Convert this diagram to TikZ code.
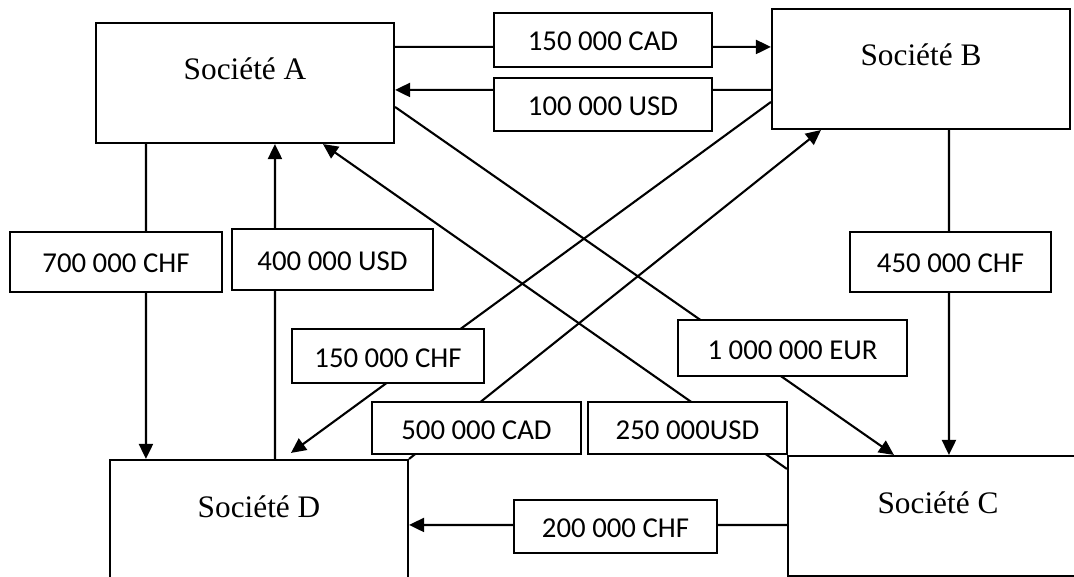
\documentclass[tikz,border=0pt]{standalone}
\usepackage{fontspec}
\setmainfont{Liberation Serif}
\newfontfamily\lblfont{Carlito}
\usetikzlibrary{arrows.meta}
\begin{document}
\begin{tikzpicture}[x=1bp,y=-1bp,
  company/.style={draw, line width=2.1bp, fill=white, minimum width=298bp, minimum height=120bp, inner sep=0pt, font=\fontsize{31.3bp}{36bp}\selectfont, text height=22bp, text depth=28bp},
  lab/.style={draw, line width=1.9bp, fill=white, inner sep=0pt, font=\lblfont\fontsize{28.8bp}{34bp}\selectfont, text height=22bp, text depth=0pt},
  arr/.style={line width=2.1bp, -{Triangle[length=15bp,width=14bp]}}
]
\useasboundingbox (0,0) rectangle (1074,577);
\clip (0,0) rectangle (1074,577);
% companies
\node[company] (A) at (245,83) {Société A};
\node[company] (B) at (921,69) {Société B};
\node[company, minimum width=300bp] (C) at (938,516) {Société C};
\node[company] (D) at (259,520) {Société D};
% connectors
\draw[arr] ([yshift=-25bp]A.north east) -- ([yshift=-39bp]B.north west);
\draw[arr] ([yshift=-82bp]B.north west) -- ([yshift=-68bp]A.north east);
\draw[arr] ([xshift=51bp]A.south west) -- ([xshift=37bp]D.north west);
\draw[arr] ([xshift=166bp]D.north west) -- ([xshift=180bp]A.south west);
\draw[arr] ([xshift=178bp]B.south west) -- ([xshift=162bp]C.north west);
\draw[arr] ([yshift=-85bp]A.north east) -- ([xshift=107bp]C.north west);
\draw[arr] ([yshift=-14bp]C.north west) -- ([xshift=228bp]A.south west);
\draw[arr] ([yshift=-94bp]B.north west) -- ([xshift=182bp,yshift=6bp]D.north west);
\draw[arr] (D.north east) -- ([xshift=50bp]B.south west);
\draw[arr] ([yshift=-70bp]C.north west) -- ([yshift=-66bp]D.north east);
% labels
\node[lab, minimum width=218bp, minimum height=54bp] (l1) at (603,40) {150 000 CAD};
\node[lab, minimum width=218bp, minimum height=53bp] (l2) at (603,104.5) {100 000 USD};
\node[lab, minimum width=212bp, minimum height=60bp] (l3) at (116,262) {700 000 CHF};
\node[lab, minimum width=201bp, minimum height=61bp] (l4) at (332.5,259.5) {400 000 USD};
\node[lab, minimum width=201bp, minimum height=60bp] (l5) at (950.5,262) {450 000 CHF};
\node[lab, minimum width=229bp, minimum height=56bp] (l6) at (792.5,348) {1 000 000 EUR};
\node[lab, minimum width=199bp, minimum height=52bp] (l7) at (687.5,428) {250 000USD};
\node[lab, minimum width=192bp, minimum height=54bp] (l8) at (388,356) {150 000 CHF};
\node[lab, minimum width=209bp, minimum height=52bp] (l9) at (476.5,428) {500 000 CAD};
\node[lab, minimum width=203bp, minimum height=53bp] (l10) at (615.5,526.5) {200 000 CHF};
\end{tikzpicture}
\end{document}
